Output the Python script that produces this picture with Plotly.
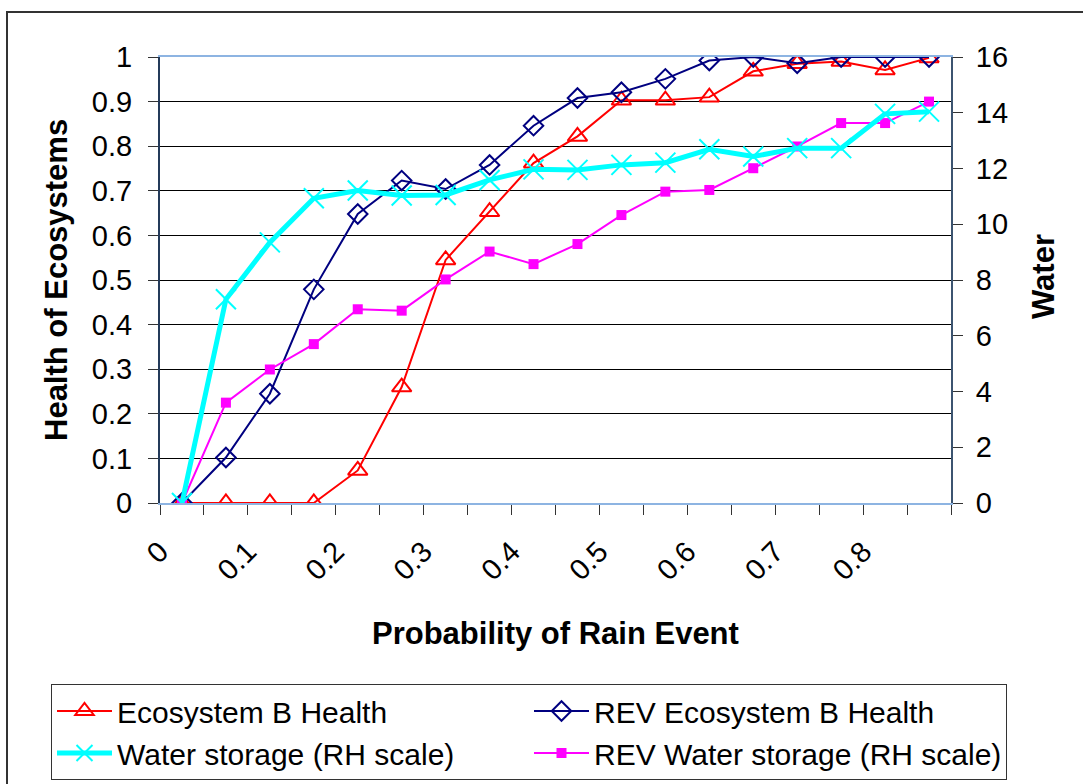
import plotly.graph_objects as go

prob = [0.025, 0.075, 0.125, 0.175, 0.225, 0.275, 0.325, 0.375, 0.425,
        0.475, 0.525, 0.575, 0.625, 0.675, 0.725, 0.775, 0.825, 0.875]

eco_b = [0, 0, 0, 0, 0.073, 0.26, 0.545, 0.653, 0.762,
         0.822, 0.903, 0.903, 0.91, 0.968, 0.985, 0.99, 0.971, 0.998]

rev_eco_b = [0, 0.102, 0.245, 0.479, 0.648, 0.723, 0.704, 0.758, 0.846,
             0.908, 0.921, 0.951, 0.992, 1.0, 0.986, 1.0, 1.0, 1.0]

water = [0, 7.31, 9.35, 10.93, 11.21, 11.03, 11.05, 11.59, 11.97,
         11.95, 12.13, 12.21, 12.69, 12.43, 12.73, 12.73, 13.96, 14.04]

rev_water = [0, 3.6, 4.79, 5.70, 6.95, 6.90, 8.02, 9.02, 8.57,
             9.29, 10.33, 11.17, 11.23, 12.01, 12.79, 13.63, 13.63, 14.40]

x_tick_vals = [0, 0.1, 0.2, 0.3, 0.4, 0.5, 0.6, 0.7, 0.8]
x_tick_text = ["0", "0.1", "0.2", "0.3", "0.4", "0.5", "0.6", "0.7", "0.8"]

names = ["Ecosystem B Health", "REV Ecosystem B Health",
         "Water storage (RH scale)", "REV Water storage (RH scale)"]

x_title = "Probability of Rain Event"
y_title = "Health of Ecosystems"
y2_title = "Water"

FONT = "Liberation Sans, Arial, sans-serif"

# plot area in pixels
L, R, T, B = 160, 951, 57, 503
W, H = R - L, B - T

def px(x):
    return (x - L) / W

def py(y):
    return (B - y) / H

fig = go.Figure()
fig.add_trace(go.Scatter(
    x=prob, y=rev_water, name=names[3], yaxis="y2", mode="lines+markers",
    line=dict(color="#FF00FF", width=2),
    marker=dict(symbol="square", size=10, color="#FF00FF"),
    legendrank=4))
fig.add_trace(go.Scatter(
    x=prob, y=water, name=names[2], yaxis="y2", mode="lines+markers",
    line=dict(color="#00FFFF", width=5),
    marker=dict(symbol="x-thin-open", size=20, line=dict(color="#00FFFF", width=2)),
    legendrank=3))
fig.add_trace(go.Scatter(
    x=prob, y=eco_b, name=names[0], mode="lines+markers",
    line=dict(color="#FF0000", width=2),
    marker=dict(symbol="triangle-up-open", size=17, color="#FF0000",
                line=dict(color="#FF0000", width=2)),
    legendrank=1))
fig.add_trace(go.Scatter(
    x=prob, y=rev_eco_b, name=names[1], mode="lines+markers",
    line=dict(color="#000080", width=2),
    marker=dict(symbol="diamond-open", size=15, color="#000080",
                line=dict(color="#000080", width=2)),
    legendrank=2))

fig.update_layout(
    width=1083, height=784,
    margin=dict(l=L, r=1083 - R, t=T, b=784 - B, autoexpand=False),
    paper_bgcolor="white", plot_bgcolor="white",
    font=dict(family=FONT, size=29, color="black"),
    showlegend=True,
    legend=dict(
        orientation="h", x=px(51), y=py(684), xanchor="left", yanchor="top",
        bordercolor="#333333", borderwidth=1, bgcolor="white",
        font=dict(size=30), itemwidth=55, entrywidth=407, entrywidthmode="pixels",
        traceorder="normal"),
    xaxis=dict(
        range=[0, 0.9], tickvals=x_tick_vals, ticktext=x_tick_text, tickangle=-45,
        ticks="outside", ticklen=10, tickcolor="#333333", ticklabelstandoff=8,
        minor=dict(dtick=0.05, tick0=0, ticks="outside", ticklen=10, tickcolor="#333333"),
        showgrid=False, zeroline=False, automargin=False,
        showline=True, linecolor="#8DB4E2", linewidth=2, mirror=True,
        tickfont=dict(size=29)),
    yaxis=dict(
        range=[0, 1], dtick=0.1, ticks="outside", ticklen=10, tickcolor="#333333",
        ticklabelstandoff=10,
        showgrid=True, gridcolor="#000000", gridwidth=1, zeroline=False, automargin=False,
        showline=True, linecolor="#243B5A", linewidth=2,
        tickfont=dict(size=29)),
    yaxis2=dict(
        range=[0, 16], dtick=2, overlaying="y", side="right",
        ticks="outside", ticklen=10, tickcolor="#333333", ticklabelstandoff=7,
        showgrid=False, zeroline=False, automargin=False,
        showline=True, linecolor="#3C5470", linewidth=2,
        tickfont=dict(size=29)),
    annotations=[
        dict(text="<b>%s</b>" % x_title, xref="paper", yref="paper",
             x=px(555), y=py(633), xanchor="center", yanchor="middle",
             showarrow=False, font=dict(size=31)),
        dict(text="<b>%s</b>" % y_title, xref="paper", yref="paper",
             x=px(56), y=py(280), xanchor="center", yanchor="middle",
             textangle=-90, showarrow=False, font=dict(size=31)),
        dict(text="<b>%s</b>" % y2_title, xref="paper", yref="paper",
             x=px(1043), y=py(277), xanchor="center", yanchor="middle",
             textangle=-90, showarrow=False, font=dict(size=31)),
    ],
    shapes=[dict(type="rect", xref="paper", yref="paper",
                 x0=px(7), x1=px(1090), y0=py(790), y1=py(12),
                 line=dict(color="#333333", width=2), fillcolor="rgba(0,0,0,0)",
                 layer="below")],
)

fig.write_html("out.html")
